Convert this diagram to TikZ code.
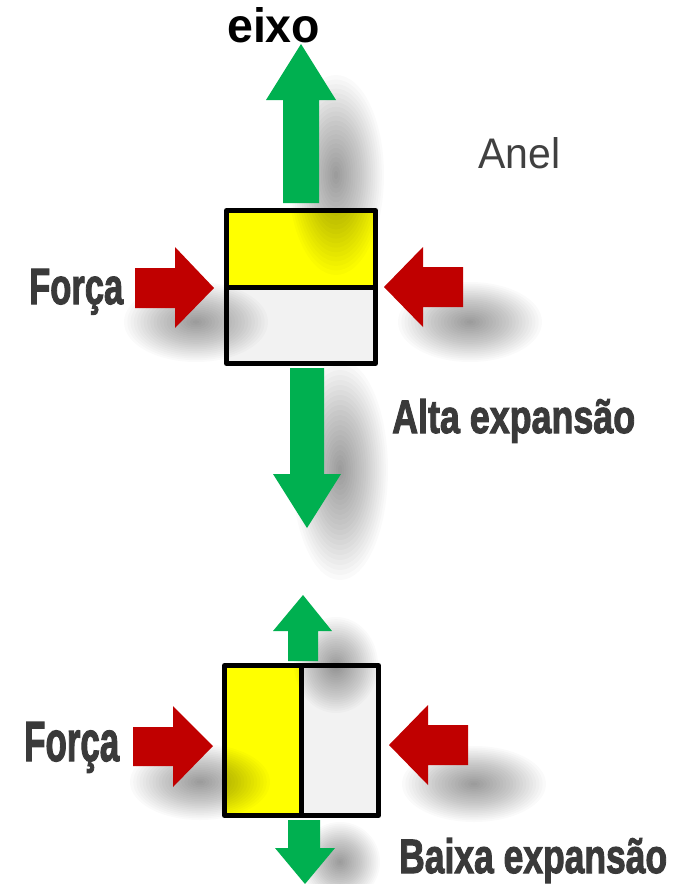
\documentclass[tikz,border=0pt]{standalone}
\usepackage{fontspec}
\setmainfont{Liberation Sans}
\newfontfamily\heavyfont[FakeBold=2.4]{Liberation Sans}

\definecolor{arrowgreen}{HTML}{00B050}
\definecolor{arrowred}{HTML}{C00000}
\definecolor{ringyellow}{HTML}{FFFF00}
\definecolor{ringgray}{HTML}{F2F2F2}
\definecolor{labelgray}{HTML}{3A3A3A}
\definecolor{anelgray}{HTML}{404040}

% diffuse drop shadow: stacked translucent ellipses, darkest in the middle
% #1 centre, #2 x radius, #3 y radius
\newcommand\dropblob[3]{%
  \foreach \k in {1,...,22}{%
    \fill[black, opacity=0.02] #1 ellipse [x radius={#2*\k/22}, y radius={#3*\k/22}];}}

\tikzset{
  greenarrow/.style={fill=arrowgreen, draw=none},
  redarrow/.style={fill=arrowred, draw=none},
  ringpart/.style={draw=black, line width=5pt, line join=round},
  label/.style={inner sep=0pt, anchor=base west, text=labelgray}
}

\begin{document}
\begin{tikzpicture}[x=1pt, y=-1pt]
  \useasboundingbox[fill=white] (0,0) rectangle (674,884);

  % ---- upper ring: layers stacked along the axis ----
  \path[ringpart, fill=ringyellow] (226.5,210.5) rectangle (375.5,287);
  \path[ringpart, fill=ringgray]   (226.5,287) rectangle (375.5,363.5);
  \coordinate (ringA) at (301,287);

  % diffuse shadows of the upper arrows
  \dropblob{(336,175)}{48}{100}
  \dropblob{(196,322)}{72}{40}
  \dropblob{(470,322)}{72}{40}
  \dropblob{(340,470)}{48}{110}

  % axial arrows
  \path[greenarrow] (283,203) -- (283,100) -- (266,100) -- (301,44)
        -- (336,100) -- (319,100) -- (319,203) -- cycle;
  \path[greenarrow] (290,368) -- (324,368) -- (324,474) -- (341,474)
        -- (307,528) -- (273,474) -- (290,474) -- cycle;
  % radial force arrows
  \path[redarrow] (135,268) -- (175,268) -- (175,247) -- (214,288)
        -- (175,328) -- (175,308) -- (135,308) -- cycle;
  \path[redarrow] (463,267) -- (423,267) -- (423,247) -- (384,287)
        -- (423,327) -- (423,307) -- (463,307) -- cycle;

  % ---- lower ring: layers side by side ----
  \path[ringpart, fill=ringyellow] (224.5,665.5) rectangle (301,815.5);
  \path[ringpart, fill=ringgray]   (301,665.5) rectangle (378.5,815.5);
  \coordinate (ringB) at (301,740);

  % diffuse shadows of the lower arrows
  \dropblob{(336,665)}{42}{48}
  \dropblob{(200,782)}{70}{38}
  \dropblob{(474,784)}{72}{38}
  \dropblob{(340,862)}{40}{40}

  \path[greenarrow] (288,661) -- (288,631) -- (273,631) -- (303,595)
        -- (332,631) -- (318,631) -- (318,661) -- cycle;
  \path[greenarrow] (288,820) -- (320,820) -- (320,848) -- (335,848)
        -- (305,884) -- (275,848) -- (288,848) -- cycle;
  \path[redarrow] (133,727) -- (173,727) -- (173,706) -- (213,746)
        -- (173,787) -- (173,766) -- (133,766) -- cycle;
  \path[redarrow] (468,725) -- (428,725) -- (428,705) -- (389,745)
        -- (428,785) -- (428,765) -- (468,765) -- cycle;

  % ---- labels ----
  \node[label, text=black] (eixo) at (227,42)
    {\resizebox{93pt}{35pt}{\bfseries eixo}};
  \node[label, text=anelgray] (anel) at (478,168)
    {\resizebox{82pt}{31pt}{Anel}};
  \node[label] (forcaA) at (29,304)
    {\resizebox{94pt}{35pt}{\heavyfont\bfseries Força}};
  \node[label] (alta) at (392,433)
    {\resizebox{243pt}{34pt}{\heavyfont\bfseries Alta expansão}};
  \node[label] (forcaB) at (24,761)
    {\resizebox{95pt}{39pt}{\heavyfont\bfseries Força}};
  \node[label] (baixa) at (399,873)
    {\resizebox{268pt}{35pt}{\heavyfont\bfseries Baixa expansão}};
\end{tikzpicture}
\end{document}
